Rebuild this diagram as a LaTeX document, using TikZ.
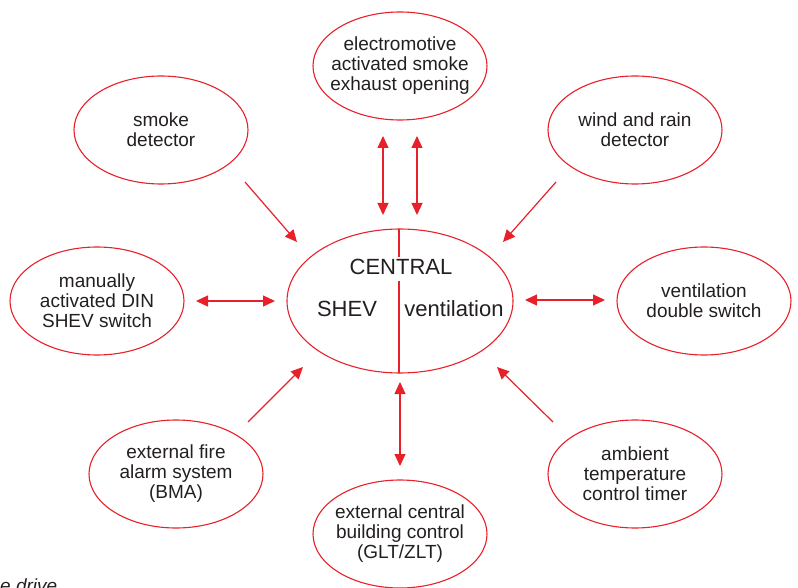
\documentclass[tikz,border=0pt]{standalone}
\usepackage{fontspec}
\setmainfont{Liberation Sans}
\usetikzlibrary{shapes.geometric,arrows.meta}
\definecolor{rd}{HTML}{E8202A}
\definecolor{tx}{HTML}{231F20}
\tikzset{
  ell/.style={draw=rd, line width=1.1pt, ellipse, inner sep=0pt, minimum width=174pt, minimum height=108pt},
  txt/.style={text=tx, align=center, font=\fontsize{19}{20}\selectfont},
  big/.style={text=tx, font=\fontsize{22}{24}\selectfont, inner sep=0pt},
  arr/.style={draw=rd, line width=1.2pt, -{Triangle[length=12pt,width=11pt]}},
  darr/.style={draw=rd, line width=1.2pt, {Triangle[length=12pt,width=11pt]}-{Triangle[length=12pt,width=11pt]}},
}
\begin{document}
\begin{tikzpicture}[x=1pt,y=-1pt]
\useasboundingbox (0,0) rectangle (798,588);
\clip (0,0) rectangle (798,588);
% central ellipse
\node[ell, minimum width=226pt, minimum height=144pt] (c) at (400,301) {};
\coordinate (l1) at (399,229);
\coordinate (l2) at (399,257);
\coordinate (l3) at (399,281);
\coordinate (l4) at (399,373);
\draw[rd, line width=1.1pt] (l1) -- (l2) (l3) -- (l4);
\node[big] (central) at (401,267) {CENTRAL};
\node[big] (shev) at (347,309) {SHEV};
\node[big] (vent) at (454,309) {ventilation};
% outer ellipses
\node[ell, label={[txt]center:electromotive\\activated smoke\\exhaust opening}] (top) at (400,66) {};
\node[ell, label={[txt]center:smoke\\detector}] (smoke) at (161,130) {};
\node[ell, label={[txt]center:wind and rain\\detector}] (wind) at (635,130) {};
\node[ell, label={[txt]center:manually\\activated DIN\\SHEV switch}] (man) at (97,301) {};
\node[ell, label={[txt]center:ventilation\\double switch}] (dbl) at (704,301) {};
\node[ell, label={[txt]center:external fire\\alarm system\\(BMA)}] (fire) at (176,474) {};
\node[ell, label={[txt]center:ambient\\temperature\\control timer}] (amb) at (635,474) {};
\node[ell, label={[txt]center:external central\\building control\\(GLT/ZLT)}] (glt) at (400,534) {};
% arrow endpoints
\coordinate (ta1) at (383,136); \coordinate (tb1) at (383,215);
\coordinate (ta2) at (417,136); \coordinate (tb2) at (417,215);
\coordinate (sa) at (245,182); \coordinate (sb) at (297,242);
\coordinate (wa) at (556,182); \coordinate (wb) at (503,242);
\coordinate (ma) at (196,301); \coordinate (mb) at (275,301);
\coordinate (da) at (525,300); \coordinate (db) at (605,300);
\coordinate (fa) at (248,422); \coordinate (fb) at (303,367);
\coordinate (aa) at (553,422); \coordinate (ab) at (497,367);
\coordinate (ga) at (400,382); \coordinate (gb) at (400,466);
\draw[darr] (ta1) -- (tb1);
\draw[darr] (ta2) -- (tb2);
\draw[arr] (sa) -- (sb);
\draw[arr] (wa) -- (wb);
\draw[darr] (ma) -- (mb);
\draw[darr] (da) -- (db);
\draw[arr] (fa) -- (fb);
\draw[arr] (aa) -- (ab);
\draw[darr] (ga) -- (gb);
% cut-off caption
\node[text=tx, anchor=base west, inner sep=0pt, font=\fontsize{19}{20}\selectfont\itshape] (cap) at (0,592) {e drive};
\end{tikzpicture}
\end{document}
